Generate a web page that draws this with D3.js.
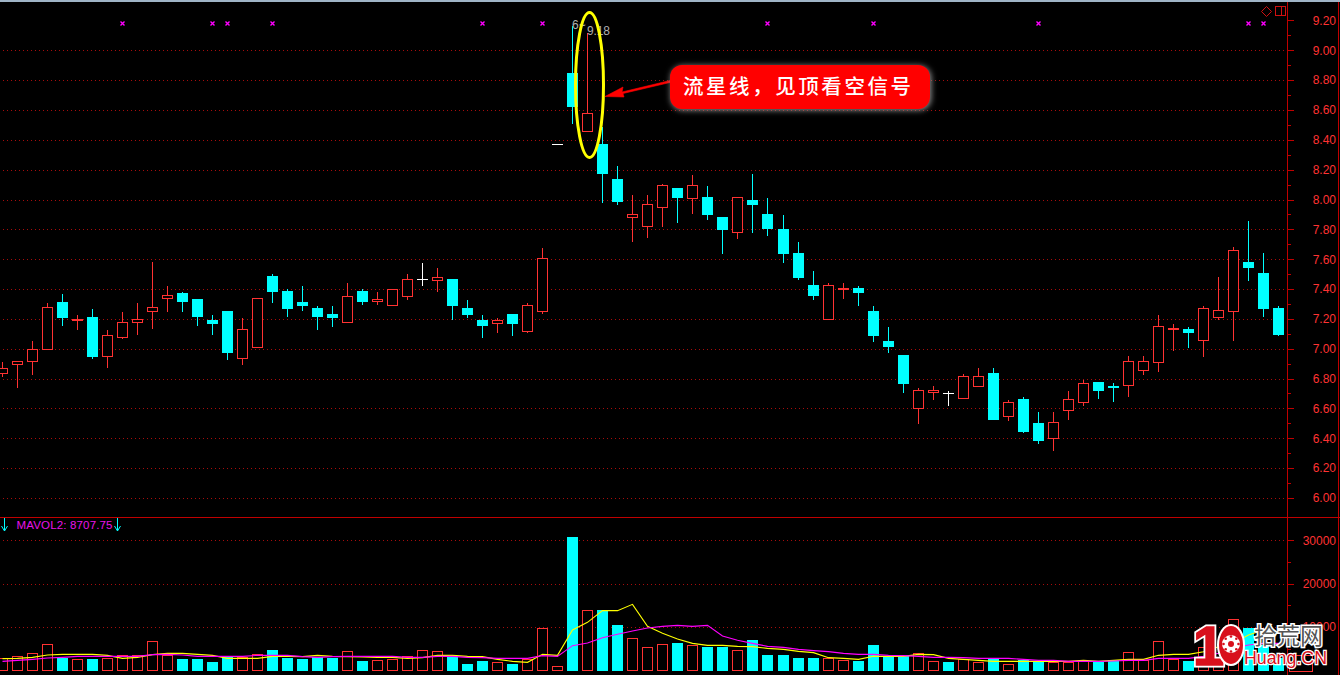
<!DOCTYPE html>
<html><head><meta charset="utf-8">
<script src="https://cdn.jsdelivr.net/npm/d3@7/dist/d3.min.js"></script>
<style>html,body{margin:0;padding:0;background:#000;overflow:hidden}svg{display:block}</style>
</head><body><svg id="c" width="1340" height="675"></svg>
<script>
const high=[6.92,6.92,7.06,7.31,7.37,7.23,7.27,7.13,7.25,7.31,7.59,7.43,7.39,7.33,7.23,7.25,7.21,7.34,7.51,7.41,7.43,7.29,7.29,7.45,7.41,7.39,7.41,7.51,7.58,7.55,7.47,7.33,7.23,7.21,7.23,7.31,7.68,8.37,9.17,9.12,8.49,8.23,8.04,8.04,8.11,8.08,8.17,8.10,7.88,8.02,8.18,8.02,7.90,7.72,7.53,7.45,7.45,7.43,7.29,7.15,6.96,6.74,6.76,6.72,6.84,6.88,6.88,6.66,6.68,6.58,6.58,6.72,6.80,6.78,6.78,6.96,6.96,7.23,7.17,7.15,7.29,7.49,7.69,7.86,7.65,7.29];
const low=[6.82,6.74,6.83,7.00,7.16,7.13,6.94,6.88,7.07,7.10,7.14,7.25,7.25,7.16,7.10,6.93,6.90,7.01,7.31,7.22,7.26,7.13,7.15,7.18,7.30,7.30,7.29,7.33,7.43,7.39,7.20,7.21,7.08,7.11,7.09,7.11,7.24,8.37,8.51,8.46,7.98,7.97,7.72,7.75,7.82,7.85,7.91,7.87,7.64,7.74,7.78,7.76,7.58,7.47,7.33,7.20,7.34,7.29,7.05,6.98,6.71,6.50,6.66,6.62,6.67,6.75,6.53,6.52,6.44,6.37,6.32,6.53,6.62,6.67,6.65,6.68,6.83,6.85,6.99,7.01,6.95,7.20,7.06,7.46,7.22,7.09];
const open=[6.84,6.90,6.92,7.00,7.31,7.19,7.21,6.95,7.08,7.18,7.25,7.34,7.37,7.33,7.19,7.25,6.94,7.01,7.49,7.39,7.31,7.27,7.23,7.18,7.39,7.32,7.29,7.35,7.47,7.46,7.47,7.27,7.19,7.17,7.23,7.12,7.25,8.37,8.85,8.46,8.37,8.14,7.88,7.82,7.95,8.08,8.01,8.02,7.88,7.78,8.00,7.90,7.80,7.64,7.43,7.20,7.40,7.41,7.25,7.05,6.96,6.60,6.71,6.70,6.67,6.75,6.84,6.55,6.66,6.50,6.40,6.59,6.64,6.78,6.75,6.76,6.86,6.91,7.13,7.13,7.06,7.21,7.25,7.58,7.51,7.27];
const close=[6.87,6.92,7.00,7.28,7.21,7.20,6.95,7.09,7.18,7.20,7.28,7.36,7.32,7.22,7.17,6.98,7.13,7.34,7.39,7.27,7.29,7.22,7.21,7.35,7.32,7.33,7.40,7.47,7.47,7.48,7.29,7.23,7.16,7.19,7.17,7.29,7.61,8.37,8.63,8.58,8.18,7.99,7.90,7.97,8.10,8.02,8.10,7.90,7.80,8.02,7.97,7.81,7.64,7.48,7.36,7.43,7.41,7.38,7.09,7.02,6.77,6.72,6.72,6.70,6.82,6.82,6.53,6.64,6.45,6.39,6.51,6.66,6.77,6.72,6.74,6.92,6.92,7.15,7.14,7.11,7.27,7.26,7.66,7.55,7.27,7.10];
const volume=[2800,3264,3955,6029,2800,2573,2650,2800,3494,3494,6720,3494,2650,2650,1958,3264,3034,3725,4723,2880,2650,3110,2880,4416,2189,2342,2573,3264,4646,4416,3110,1498,2189,1882,1498,2650,9715,960,30758,13862,13939,10483,7411,5338,6029,6336,5798,5414,5414,4646,7027,3571,3571,2880,2880,2800,2342,2189,5875,3110,3264,3955,2112,1958,2573,1958,2650,1421,2342,1958,2035,2035,2112,1958,2342,4186,2342,6720,2650,2189,5500,3000,11789,9715,5875,2800];
const maFast=[2726,2803,3034,3571,3725,3725,3725,3494,2803,3034,3648,3955,3955,3725,3494,2803,2803,2803,3264,3264,3187,3494,3264,3187,3110,3034,3034,2803,2957,3494,3494,3264,3187,2573,2112,1882,3725,3494,9331,11098,13786,13786,15245,10176,8563,7258,6259,5798,5798,5568,5491,5107,4877,4416,4109,2957,2803,2573,3264,3264,3264,3725,3648,2803,2573,2342,2112,2112,2112,2112,2112,2112,2342,2112,2342,2573,2573,3494,3725,3725,4339,5491,6259,8179,9331,8563];
const maSlow=[2112,2342,2573,2880,3034,3264,3264,3264,3264,3264,3648,3725,3571,3264,3264,3264,3264,3494,3494,3494,3187,3034,3187,3264,3264,3264,3264,3034,3034,3264,3264,3034,2957,2803,2803,2803,3418,3264,5722,6336,7565,8333,9101,9792,10176,10406,10176,10406,7949,6950,6259,5568,5338,4877,4570,4339,3955,3725,3725,3494,3418,3264,3034,3034,2957,2803,2803,2803,2573,2342,2342,2112,2112,2112,2189,2342,2342,2803,2803,2803,3264,3955,5107,5875,6259,6259];
const signalDays=[8,14,15,18,32,36,51,58,69,83,84];
const signalPrice=9.18;
const dojiRedVolume=[28,37];
const priceTicks=[6.0,6.2,6.4,6.6,6.8,7.0,7.2,7.4,7.6,7.8,8.0,8.2,8.4,8.6,8.8,9.0,9.2];
const priceMinor=[6.1,6.3,6.5,6.7,6.9,7.1,7.3,7.5,7.7,7.9,8.1,8.3,8.5,8.7,8.9,9.1];
const priceGrid=priceTicks.filter(d=>d<9.1);
const volumeTicks=[10000,20000,30000];
const volumeMinor=[5000,15000,25000];
const legendText="MAVOL2: 8707.75";
const highLabel="9.18";
const calloutText="流星线，见顶看空信号";
const logoCn="拾荒网", logoEn="Huang.CN";

const RED="#ff3232",CYAN="#00ffff",WHITE="#ffffff",AXIS="#c00000",GRID="#a80c0c";
const svg=d3.select("#c");
svg.append("rect").attr("width",1340).attr("height",675).attr("fill","#000");
svg.append("rect").attr("width",1340).attr("height",2).attr("fill","#9fb4c6");

const idx=d3.range(high.length);
const x=d3.scaleLinear().domain([0,51,52,85]).range([2.5,767.5,783.5,1278.5]);
const yP=d3.scaleLinear().domain([6,9]).range([497.9,50.3]);
const yV=d3.scaleLinear().domain([0,30000]).range([670.5,540.3]);
const cx=i=>Math.floor(x(i))+0.5;
const py=v=>Math.round(yP(v))+0.5;
const vy=v=>Math.round(yV(v))+0.5;
const baseY=670.5;

const gridG=svg.append("g").attr("stroke",GRID).attr("stroke-dasharray","1 3").attr("shape-rendering","crispEdges");
gridG.selectAll("line.p").data(priceGrid).join("line").attr("x1",3).attr("x2",1285).attr("y1",py).attr("y2",py);
gridG.selectAll("line.v").data(volumeTicks).join("line").attr("x1",3).attr("x2",1285).attr("y1",vy).attr("y2",vy);

const frame=svg.append("g").attr("stroke",AXIS).attr("shape-rendering","crispEdges");
frame.append("line").attr("x1",0).attr("x2",1340).attr("y1",517.5).attr("y2",517.5);
frame.append("line").attr("x1",1287.5).attr("x2",1287.5).attr("y1",2).attr("y2",675);
frame.append("line").attr("x1",1338.5).attr("x2",1338.5).attr("y1",2).attr("y2",675);

function styleAxis(g){
  g.attr("shape-rendering","crispEdges");
  g.select(".domain").remove();
  g.selectAll(".tick line").attr("stroke",AXIS);
  g.selectAll(".tick text").attr("fill",RED).attr("x",48.5).attr("text-anchor","end")
    .attr("font-family","Liberation Sans, Arial, sans-serif").attr("font-size",12).attr("shape-rendering","auto");
}
svg.append("g").attr("transform","translate(1287.5,0)")
  .call(d3.axisRight(yP).tickValues(priceTicks).tickSize(6).tickFormat(d3.format(".2f"))).call(styleAxis);
svg.append("g").attr("transform","translate(1287.5,0)")
  .call(d3.axisRight(yP).tickValues(priceMinor).tickSize(3).tickFormat("")).call(styleAxis);
svg.append("g").attr("transform","translate(1287.5,0)")
  .call(d3.axisRight(yV).tickValues(volumeTicks).tickSize(6).tickFormat(d3.format("d"))).call(styleAxis);
svg.append("g").attr("transform","translate(1287.5,0)")
  .call(d3.axisRight(yV).tickValues(volumeMinor).tickSize(3).tickFormat("")).call(styleAxis);

const colorOf=i=>close[i]>open[i]?RED:close[i]<open[i]?CYAN:WHITE;
const candles=svg.append("g").attr("shape-rendering","crispEdges");
const c=candles.selectAll("g").data(idx).join("g");
c.append("line").attr("x1",cx).attr("x2",cx)
  .attr("y1",i=>py(high[i])).attr("y2",i=>py(low[i])+0.5)
  .attr("stroke",colorOf);
c.each(function(i){
  const g=d3.select(this),col=colorOf(i);
  const t=Math.max(open[i],close[i]),b=Math.min(open[i],close[i]);
  if(col===RED){
    g.append("rect").attr("x",cx(i)-5).attr("width",10).attr("y",py(t)).attr("height",Math.max(py(b)-py(t),1))
     .attr("fill","#000").attr("stroke",RED);
  }else if(col===CYAN){
    g.append("rect").attr("x",cx(i)-5.5).attr("width",11).attr("y",py(t)-.5).attr("height",Math.max(py(b)-py(t)+1,2))
     .attr("fill",CYAN);
  }else{
    g.append("line").attr("x1",cx(i)-5.5).attr("x2",cx(i)+5.5).attr("y1",py(t)).attr("y2",py(t)).attr("stroke",WHITE);
  }
});

// signal markers
const m=svg.append("g").attr("stroke","#ff00ff").attr("stroke-width",1.4);
m.selectAll("path").data(signalDays).join("path")
  .attr("d",i=>{const X=cx(i),Y=py(signalPrice);return `M${X-2},${Y-2}L${X+2},${Y+2}M${X+2},${Y-2}L${X-2},${Y+2}`;})
  .attr("fill","none");

const lab=svg.append("g").attr("fill","#b0b0b0").attr("font-family","Liberation Sans, Arial, sans-serif").attr("font-size",12);
lab.append("text").attr("x",572).attr("y",29).text("6~");
lab.append("text").attr("x",587).attr("y",35).attr("textLength",23).attr("lengthAdjust","spacing").text(highLabel);

const vol=svg.append("g").attr("shape-rendering","crispEdges");
const isUp=i=>close[i]>open[i]||dojiRedVolume.includes(i);
vol.selectAll("rect").data(idx).join("rect")
  .attr("x",i=>isUp(i)?cx(i)-5:cx(i)-5.5)
  .attr("width",i=>isUp(i)?10:11)
  .attr("y",i=>isUp(i)?vy(volume[i]):vy(volume[i])-.5)
  .attr("height",i=>isUp(i)?baseY-vy(volume[i]):baseY-vy(volume[i])+1)
  .attr("fill",i=>isUp(i)?"#000":CYAN)
  .attr("stroke",i=>isUp(i)?RED:"none");

const line=a=>d3.line().x(i=>x(i)).y(i=>yV(a[i]))(idx);
svg.append("path").attr("d",line(maFast)).attr("fill","none").attr("stroke","#ffff00").attr("stroke-width",1.1);
svg.append("path").attr("d",line(maSlow)).attr("fill","none").attr("stroke","#ff00ff").attr("stroke-width",1.1);

svg.append("text").attr("x",16.5).attr("y",529).attr("fill","#e814e8")
  .attr("font-family","Liberation Sans, Arial, sans-serif").attr("font-size",11.5)
  .attr("textLength",96).attr("lengthAdjust","spacing").text(legendText);
[4.5,117.5].forEach(X=>{
  svg.append("path").attr("d",`M${X},518V531M${X-3},526L${X},531L${X+3},526`).attr("fill","none").attr("stroke",CYAN).attr("stroke-width",1);
});

svg.append("path").attr("d","M1266.5,6.5L1271.5,11.5L1266.5,16.5L1261.5,11.5Z").attr("fill","none").attr("stroke","#d01010");
svg.append("rect").attr("x",1275.5).attr("y",6.5).attr("width",9.5).attr("height",9).attr("fill","none").attr("stroke","#d01010").attr("shape-rendering","crispEdges");
svg.append("line").attr("x1",1281.5).attr("x2",1281.5).attr("y1",6.5).attr("y2",15.5).attr("stroke","#d01010").attr("shape-rendering","crispEdges");

svg.append("ellipse").attr("cx",589.5).attr("cy",85).attr("rx",14).attr("ry",72.5).attr("fill","none").attr("stroke","#ffff00").attr("stroke-width",3);
svg.append("path").attr("d","M670,80.5L622,92L623,87L605,96.5L624,97L623,93.5L670,82.5Z").attr("fill","#ff0000").attr("stroke","#ff0000").attr("stroke-width",.6);
svg.append("rect").attr("x",670).attr("y",65).attr("width",260).attr("height",44).attr("rx",12).attr("ry",12)
  .attr("fill","#ff0000").style("filter","drop-shadow(1px 1px 3px #999)");
svg.append("text").attr("x",683).attr("y",93.5).attr("fill","#fff")
  .attr("font-family","Noto Sans CJK SC, sans-serif").attr("font-weight",500).attr("font-size",20.5)
  .attr("textLength",228).attr("lengthAdjust","spacing").text(calloutText);

// watermark
const w=svg.append("g");
w.append("rect").attr("x",1289.5).attr("y",655.5).attr("width",23).attr("height",16).attr("fill","none").attr("stroke",RED).attr("shape-rendering","crispEdges");
w.append("text").attr("x",1193).attr("y",665).attr("font-family","Liberation Sans, Arial, sans-serif").attr("font-weight",700).attr("font-size",56)
  .attr("fill","#d8101c").attr("stroke","#fff").attr("stroke-width",5).style("paint-order","stroke").text("1");
w.append("text").attr("x",1193).attr("y",665).attr("font-family","Liberation Sans, Arial, sans-serif").attr("font-weight",700).attr("font-size",56)
  .attr("fill","#d8101c").attr("stroke","#d8101c").attr("stroke-width",1.5).attr("aria-hidden","true").text("1");
w.append("ellipse").attr("cx",1231).attr("cy",645).attr("rx",13).attr("ry",20).attr("fill","#d8101c").attr("stroke","#fff").attr("stroke-width",2);
w.append("circle").attr("cx",1231).attr("cy",644).attr("r",9).attr("fill","#fff");
d3.range(8).forEach(k=>{const a=k*Math.PI/4;w.append("circle").attr("cx",1231+Math.cos(a)*7.5).attr("cy",644+Math.sin(a)*7.5).attr("r",1.3).attr("fill","#d8101c");});
w.append("circle").attr("cx",1231).attr("cy",644).attr("r",3).attr("fill","#d8101c");
w.append("text").attr("x",1254).attr("y",644).attr("font-family","Noto Sans CJK SC, sans-serif").attr("font-size",23)
  .attr("textLength",69).attr("lengthAdjust","spacing")
  .attr("fill","#555").attr("stroke","#fff").attr("stroke-width",3).style("paint-order","stroke").text(logoCn);
w.append("text").attr("x",1244).attr("y",664).attr("font-family","Liberation Sans, Arial, sans-serif").attr("font-size",19)
  .attr("textLength",83).attr("lengthAdjust","spacingAndGlyphs")
  .attr("fill","#d8101c").attr("stroke","#fff").attr("stroke-width",2.5).style("paint-order","stroke").text(logoEn);
</script></body></html>
